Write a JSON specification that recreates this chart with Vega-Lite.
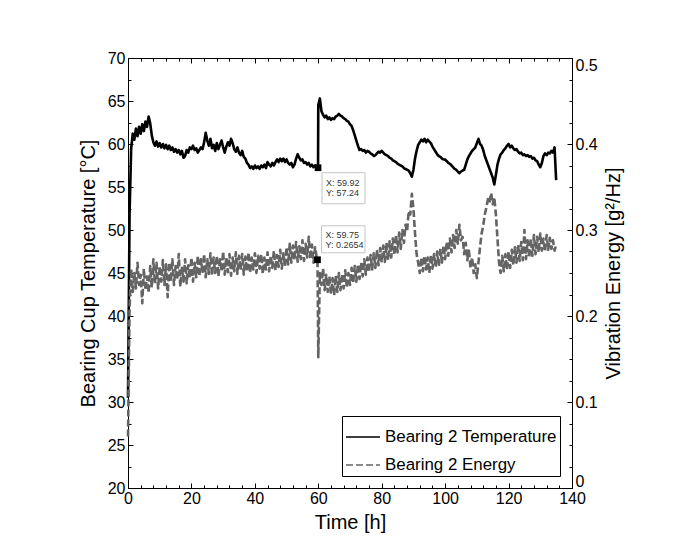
{
  "$schema": "https://vega.github.io/schema/vega-lite/v6.json",
  "width": 444,
  "height": 430,
  "autosize": {"type": "none"},
  "padding": {"left": 128, "top": 58, "right": 102, "bottom": 60},
  "background": "white",
  "datasets": {
    "temperature": [
      {"t":0,"temp":30.5},{"t":0.5,"temp":52},{"t":1,"temp":59.5},{"t":1.5,"temp":61.2},{"t":2,"temp":60.5},{"t":2.5,"temp":61.8},{"t":3,"temp":60.9},{"t":3.5,"temp":62.0},{"t":4,"temp":61.2},{"t":4.5,"temp":62.3},
      {"t":5,"temp":61.5},{"t":5.5,"temp":62.6},{"t":6,"temp":62.0},{"t":6.5,"temp":63.2},{"t":7,"temp":62.4},{"t":7.5,"temp":61.0},{"t":8,"temp":60.2},{"t":8.5,"temp":59.8},{"t":9,"temp":60.3},{"t":9.5,"temp":59.7},
      {"t":10,"temp":60.1},{"t":10.5,"temp":59.6},{"t":11,"temp":60.0},{"t":11.5,"temp":59.5},{"t":12,"temp":59.9},{"t":12.5,"temp":59.4},{"t":13,"temp":59.8},{"t":13.5,"temp":59.3},{"t":14,"temp":59.6},{"t":14.5,"temp":59.1},
      {"t":15,"temp":59.4},{"t":15.5,"temp":59.0},{"t":16,"temp":59.3},{"t":16.5,"temp":58.8},{"t":17,"temp":59.2},{"t":17.5,"temp":58.4},{"t":18,"temp":58.6},{"t":18.5,"temp":59.3},{"t":19,"temp":59.0},{"t":19.5,"temp":59.6},
      {"t":20,"temp":59.4},{"t":20.5,"temp":59.8},{"t":21,"temp":59.3},{"t":21.5,"temp":59.5},{"t":22,"temp":59.0},{"t":22.5,"temp":59.3},{"t":23,"temp":59.6},{"t":23.5,"temp":59.4},{"t":24,"temp":60.2},{"t":24.5,"temp":61.3},
      {"t":25,"temp":60.4},{"t":25.5,"temp":59.8},{"t":26,"temp":60.6},{"t":26.5,"temp":59.5},{"t":27,"temp":59.9},{"t":27.5,"temp":59.2},{"t":28,"temp":60.1},{"t":28.5,"temp":59.4},{"t":29,"temp":59.9},{"t":29.5,"temp":60.4},
      {"t":30,"temp":59.6},{"t":30.5,"temp":59.0},{"t":31,"temp":59.7},{"t":31.5,"temp":60.2},{"t":32,"temp":59.8},{"t":32.5,"temp":60.6},{"t":33,"temp":60.1},{"t":33.5,"temp":59.4},{"t":34,"temp":59.1},{"t":34.5,"temp":59.6},
      {"t":35,"temp":59.0},{"t":35.5,"temp":58.7},{"t":36,"temp":59.2},{"t":36.5,"temp":58.5},{"t":37,"temp":58.3},{"t":37.5,"temp":57.8},{"t":38,"temp":57.6},{"t":38.5,"temp":57.2},{"t":39,"temp":57.4},{"t":39.5,"temp":57.1},
      {"t":40,"temp":57.5},{"t":40.5,"temp":57.2},{"t":41,"temp":57.4},{"t":41.5,"temp":57.1},{"t":42,"temp":57.5},{"t":42.5,"temp":57.3},{"t":43,"temp":57.6},{"t":43.5,"temp":57.2},{"t":44,"temp":57.9},{"t":44.5,"temp":57.6},
      {"t":45,"temp":57.4},{"t":45.5,"temp":57.8},{"t":46,"temp":57.5},{"t":46.5,"temp":57.9},{"t":47,"temp":58.2},{"t":47.5,"temp":57.9},{"t":48,"temp":58.3},{"t":48.5,"temp":58.0},{"t":49,"temp":58.3},{"t":49.5,"temp":57.9},
      {"t":50,"temp":58.2},{"t":50.5,"temp":57.8},{"t":51,"temp":57.6},{"t":51.5,"temp":57.8},{"t":52,"temp":57.3},{"t":52.5,"temp":57.6},{"t":53,"temp":58.3},{"t":53.5,"temp":58.8},{"t":54,"temp":58.4},{"t":54.5,"temp":58.1},
      {"t":55,"temp":58.2},{"t":55.5,"temp":57.8},{"t":56,"temp":57.9},{"t":56.5,"temp":57.6},{"t":57,"temp":57.8},{"t":57.5,"temp":57.4},{"t":58,"temp":57.6},{"t":58.5,"temp":57.3},{"t":59,"temp":57.5},{"t":59.5,"temp":57.3},
      {"t":59.92,"temp":57.24},{"t":60,"temp":64.5},{"t":60.5,"temp":65.3},{"t":61,"temp":63.8},{"t":61.5,"temp":63.4},{"t":62,"temp":63.1},{"t":62.5,"temp":63.3},{"t":63,"temp":62.9},{"t":63.5,"temp":63.1},{"t":64,"temp":62.8},{"t":64.5,"temp":63.0},
      {"t":65,"temp":62.9},{"t":65.5,"temp":63.2},{"t":66,"temp":63.3},{"t":66.5,"temp":63.5},{"t":67,"temp":63.3},{"t":67.5,"temp":63.2},{"t":68,"temp":63.0},{"t":68.5,"temp":62.9},{"t":69,"temp":62.7},{"t":69.5,"temp":62.6},
      {"t":70,"temp":62.3},{"t":70.5,"temp":62.1},{"t":71,"temp":61.6},{"t":71.5,"temp":61.0},{"t":72,"temp":60.4},{"t":72.5,"temp":59.8},{"t":73,"temp":59.3},{"t":73.5,"temp":59.4},{"t":74,"temp":59.2},{"t":74.5,"temp":59.3},
      {"t":75,"temp":59.0},{"t":75.5,"temp":59.2},{"t":76,"temp":59.1},{"t":76.5,"temp":58.9},{"t":77,"temp":58.8},{"t":77.5,"temp":58.6},{"t":78,"temp":58.7},{"t":78.5,"temp":58.9},{"t":79,"temp":59.1},{"t":79.5,"temp":59.0},
      {"t":80,"temp":59.2},{"t":80.5,"temp":59.0},{"t":81,"temp":58.8},{"t":81.5,"temp":58.7},{"t":82,"temp":58.6},{"t":82.5,"temp":58.4},{"t":83,"temp":58.3},{"t":83.5,"temp":58.1},{"t":84,"temp":58.0},{"t":84.5,"temp":57.9},
      {"t":85,"temp":57.7},{"t":85.5,"temp":57.6},{"t":86,"temp":57.5},{"t":86.5,"temp":57.4},{"t":87,"temp":57.2},{"t":87.5,"temp":57.1},{"t":88,"temp":57.0},{"t":88.5,"temp":56.9},{"t":89,"temp":56.6},{"t":89.5,"temp":56.2},
      {"t":90,"temp":57.0},{"t":90.5,"temp":58.3},{"t":91,"temp":59.2},{"t":91.5,"temp":59.9},{"t":92,"temp":60.2},{"t":92.5,"temp":60.5},{"t":93,"temp":60.3},{"t":93.5,"temp":60.6},{"t":94,"temp":60.2},{"t":94.5,"temp":60.5},
      {"t":95,"temp":60.3},{"t":95.5,"temp":60.1},{"t":96,"temp":59.7},{"t":96.5,"temp":59.4},{"t":97,"temp":59.1},{"t":97.5,"temp":58.8},{"t":98,"temp":58.6},{"t":98.5,"temp":58.5},{"t":99,"temp":58.3},{"t":99.5,"temp":58.2},
      {"t":100,"temp":58.2},{"t":100.5,"temp":58.0},{"t":101,"temp":57.8},{"t":101.5,"temp":57.7},{"t":102,"temp":57.5},{"t":102.5,"temp":57.3},{"t":103,"temp":57.1},{"t":103.5,"temp":57.0},{"t":104,"temp":56.8},{"t":104.5,"temp":56.6},
      {"t":105,"temp":56.8},{"t":105.5,"temp":56.9},{"t":106,"temp":57.0},{"t":106.5,"temp":57.6},{"t":107,"temp":58.2},{"t":107.5,"temp":58.6},{"t":108,"temp":58.9},{"t":108.5,"temp":59.2},{"t":109,"temp":59.4},{"t":109.5,"temp":59.6},
      {"t":110,"temp":60.1},{"t":110.5,"temp":60.6},{"t":111,"temp":60.0},{"t":111.5,"temp":59.8},{"t":112,"temp":59.3},{"t":112.5,"temp":58.6},{"t":113,"temp":58.1},{"t":113.5,"temp":57.6},{"t":114,"temp":57.1},{"t":114.5,"temp":56.6},
      {"t":115,"temp":56.1},{"t":115.5,"temp":55.3},{"t":116,"temp":56.4},{"t":116.5,"temp":57.6},{"t":117,"temp":58.3},{"t":117.5,"temp":58.8},{"t":118,"temp":59.0},{"t":118.5,"temp":59.3},{"t":119,"temp":59.5},{"t":119.5,"temp":59.8},
      {"t":120,"temp":60.0},{"t":120.5,"temp":59.6},{"t":121,"temp":59.8},{"t":121.5,"temp":59.5},{"t":122,"temp":59.3},{"t":122.5,"temp":59.4},{"t":123,"temp":59.1},{"t":123.5,"temp":58.9},{"t":124,"temp":59.0},{"t":124.5,"temp":58.7},
      {"t":125,"temp":58.8},{"t":125.5,"temp":58.6},{"t":126,"temp":58.7},{"t":126.5,"temp":58.5},{"t":127,"temp":58.6},{"t":127.5,"temp":58.3},{"t":128,"temp":58.4},{"t":128.5,"temp":58.1},{"t":129,"temp":58.0},{"t":129.5,"temp":57.6},
      {"t":130,"temp":57.3},{"t":130.5,"temp":57.8},{"t":131,"temp":58.6},{"t":131.5,"temp":58.9},{"t":132,"temp":58.7},{"t":132.5,"temp":59.0},{"t":133,"temp":58.9},{"t":133.5,"temp":59.2},{"t":134,"temp":59.0},{"t":134.5,"temp":59.6},
      {"t":135,"temp":55.8}
    ],
    "energy": [
      {"t":0,"energy":0.06},{"t":0.5,"energy":0.21},{"t":1,"energy":0.255},{"t":1.5,"energy":0.228},{"t":2,"energy":0.250},{"t":2.5,"energy":0.232},{"t":3,"energy":0.262},{"t":3.5,"energy":0.236},{"t":4,"energy":0.248},{"t":4.5,"energy":0.215},
      {"t":5,"energy":0.255},{"t":5.5,"energy":0.230},{"t":6,"energy":0.246},{"t":6.5,"energy":0.227},{"t":7,"energy":0.258},{"t":7.5,"energy":0.233},{"t":8,"energy":0.266},{"t":8.5,"energy":0.238},{"t":9,"energy":0.262},{"t":9.5,"energy":0.232},
      {"t":10,"energy":0.258},{"t":10.5,"energy":0.240},{"t":11,"energy":0.265},{"t":11.5,"energy":0.236},{"t":12,"energy":0.260},{"t":12.5,"energy":0.222},{"t":13,"energy":0.262},{"t":13.5,"energy":0.240},{"t":14,"energy":0.266},{"t":14.5,"energy":0.236},
      {"t":15,"energy":0.258},{"t":15.5,"energy":0.242},{"t":16,"energy":0.272},{"t":16.5,"energy":0.234},{"t":17,"energy":0.256},{"t":17.5,"energy":0.240},{"t":18,"energy":0.266},{"t":18.5,"energy":0.238},{"t":19,"energy":0.259},{"t":19.5,"energy":0.244},
      {"t":20,"energy":0.268},{"t":20.5,"energy":0.240},{"t":21,"energy":0.262},{"t":21.5,"energy":0.245},{"t":22,"energy":0.270},{"t":22.5,"energy":0.246},{"t":23,"energy":0.266},{"t":23.5,"energy":0.250},{"t":24,"energy":0.272},{"t":24.5,"energy":0.245},
      {"t":25,"energy":0.266},{"t":25.5,"energy":0.249},{"t":26,"energy":0.273},{"t":26.5,"energy":0.247},{"t":27,"energy":0.268},{"t":27.5,"energy":0.250},{"t":28,"energy":0.270},{"t":28.5,"energy":0.246},{"t":29,"energy":0.266},{"t":29.5,"energy":0.252},
      {"t":30,"energy":0.275},{"t":30.5,"energy":0.248},{"t":31,"energy":0.268},{"t":31.5,"energy":0.251},{"t":32,"energy":0.272},{"t":32.5,"energy":0.247},{"t":33,"energy":0.268},{"t":33.5,"energy":0.252},{"t":34,"energy":0.274},{"t":34.5,"energy":0.249},
      {"t":35,"energy":0.270},{"t":35.5,"energy":0.253},{"t":36,"energy":0.272},{"t":36.5,"energy":0.248},{"t":37,"energy":0.269},{"t":37.5,"energy":0.252},{"t":38,"energy":0.274},{"t":38.5,"energy":0.250},{"t":39,"energy":0.268},{"t":39.5,"energy":0.254},
      {"t":40,"energy":0.273},{"t":40.5,"energy":0.250},{"t":41,"energy":0.270},{"t":41.5,"energy":0.255},{"t":42,"energy":0.272},{"t":42.5,"energy":0.249},{"t":43,"energy":0.268},{"t":43.5,"energy":0.254},{"t":44,"energy":0.274},{"t":44.5,"energy":0.252},
      {"t":45,"energy":0.270},{"t":45.5,"energy":0.256},{"t":46,"energy":0.276},{"t":46.5,"energy":0.253},{"t":47,"energy":0.271},{"t":47.5,"energy":0.257},{"t":48,"energy":0.277},{"t":48.5,"energy":0.255},{"t":49,"energy":0.273},{"t":49.5,"energy":0.258},
      {"t":50,"energy":0.280},{"t":50.5,"energy":0.260},{"t":51,"energy":0.284},{"t":51.5,"energy":0.262},{"t":52,"energy":0.282},{"t":52.5,"energy":0.265},{"t":53,"energy":0.286},{"t":53.5,"energy":0.263},{"t":54,"energy":0.281},{"t":54.5,"energy":0.266},
      {"t":55,"energy":0.288},{"t":55.5,"energy":0.264},{"t":56,"energy":0.284},{"t":56.5,"energy":0.268},{"t":57,"energy":0.292},{"t":57.5,"energy":0.266},{"t":58,"energy":0.283},{"t":58.5,"energy":0.262},{"t":59,"energy":0.280},{"t":59.5,"energy":0.268},
      {"t":59.75,"energy":0.2654},{"t":60,"energy":0.152},{"t":60.5,"energy":0.250},{"t":61,"energy":0.236},{"t":61.5,"energy":0.255},{"t":62,"energy":0.230},{"t":62.5,"energy":0.248},{"t":63,"energy":0.228},{"t":63.5,"energy":0.246},{"t":64,"energy":0.226},{"t":64.5,"energy":0.244},
      {"t":65,"energy":0.224},{"t":65.5,"energy":0.247},{"t":66,"energy":0.228},{"t":66.5,"energy":0.250},{"t":67,"energy":0.230},{"t":67.5,"energy":0.249},{"t":68,"energy":0.232},{"t":68.5,"energy":0.253},{"t":69,"energy":0.233},{"t":69.5,"energy":0.250},
      {"t":70,"energy":0.236},{"t":70.5,"energy":0.256},{"t":71,"energy":0.238},{"t":71.5,"energy":0.258},{"t":72,"energy":0.240},{"t":72.5,"energy":0.260},{"t":73,"energy":0.243},{"t":73.5,"energy":0.262},{"t":74,"energy":0.246},{"t":74.5,"energy":0.266},
      {"t":75,"energy":0.248},{"t":75.5,"energy":0.268},{"t":76,"energy":0.251},{"t":76.5,"energy":0.271},{"t":77,"energy":0.254},{"t":77.5,"energy":0.273},{"t":78,"energy":0.256},{"t":78.5,"energy":0.277},{"t":79,"energy":0.259},{"t":79.5,"energy":0.279},
      {"t":80,"energy":0.262},{"t":80.5,"energy":0.282},{"t":81,"energy":0.263},{"t":81.5,"energy":0.285},{"t":82,"energy":0.265},{"t":82.5,"energy":0.287},{"t":83,"energy":0.268},{"t":83.5,"energy":0.290},{"t":84,"energy":0.271},{"t":84.5,"energy":0.294},
      {"t":85,"energy":0.274},{"t":85.5,"energy":0.297},{"t":86,"energy":0.278},{"t":86.5,"energy":0.300},{"t":87,"energy":0.285},{"t":87.5,"energy":0.306},{"t":88,"energy":0.298},{"t":88.5,"energy":0.322},{"t":89,"energy":0.318},{"t":89.5,"energy":0.342},
      {"t":90,"energy":0.325},{"t":90.5,"energy":0.296},{"t":91,"energy":0.272},{"t":91.5,"energy":0.262},{"t":92,"energy":0.250},{"t":92.5,"energy":0.268},{"t":93,"energy":0.252},{"t":93.5,"energy":0.270},{"t":94,"energy":0.254},{"t":94.5,"energy":0.268},
      {"t":95,"energy":0.250},{"t":95.5,"energy":0.271},{"t":96,"energy":0.255},{"t":96.5,"energy":0.272},{"t":97,"energy":0.257},{"t":97.5,"energy":0.275},{"t":98,"energy":0.258},{"t":98.5,"energy":0.278},{"t":99,"energy":0.262},{"t":99.5,"energy":0.282},
      {"t":100,"energy":0.266},{"t":100.5,"energy":0.286},{"t":101,"energy":0.270},{"t":101.5,"energy":0.290},{"t":102,"energy":0.274},{"t":102.5,"energy":0.294},{"t":103,"energy":0.279},{"t":103.5,"energy":0.300},{"t":104,"energy":0.284},{"t":104.5,"energy":0.306},
      {"t":105,"energy":0.288},{"t":105.5,"energy":0.292},{"t":106,"energy":0.272},{"t":106.5,"energy":0.285},{"t":107,"energy":0.265},{"t":107.5,"energy":0.276},{"t":108,"energy":0.256},{"t":108.5,"energy":0.268},{"t":109,"energy":0.250},{"t":109.5,"energy":0.260},
      {"t":110,"energy":0.244},{"t":110.5,"energy":0.262},{"t":111,"energy":0.280},{"t":111.5,"energy":0.296},{"t":112,"energy":0.305},{"t":112.5,"energy":0.318},{"t":113,"energy":0.326},{"t":113.5,"energy":0.336},{"t":114,"energy":0.332},{"t":114.5,"energy":0.343},
      {"t":115,"energy":0.330},{"t":115.5,"energy":0.338},{"t":116,"energy":0.318},{"t":116.5,"energy":0.290},{"t":117,"energy":0.262},{"t":117.5,"energy":0.250},{"t":118,"energy":0.270},{"t":118.5,"energy":0.252},{"t":119,"energy":0.272},{"t":119.5,"energy":0.254},
      {"t":120,"energy":0.275},{"t":120.5,"energy":0.256},{"t":121,"energy":0.277},{"t":121.5,"energy":0.259},{"t":122,"energy":0.280},{"t":122.5,"energy":0.262},{"t":123,"energy":0.283},{"t":123.5,"energy":0.264},{"t":124,"energy":0.286},{"t":124.5,"energy":0.265},
      {"t":125,"energy":0.300},{"t":125.5,"energy":0.266},{"t":126,"energy":0.288},{"t":126.5,"energy":0.268},{"t":127,"energy":0.290},{"t":127.5,"energy":0.270},{"t":128,"energy":0.294},{"t":128.5,"energy":0.272},{"t":129,"energy":0.292},{"t":129.5,"energy":0.274},
      {"t":130,"energy":0.296},{"t":130.5,"energy":0.276},{"t":131,"energy":0.290},{"t":131.5,"energy":0.275},{"t":132,"energy":0.294},{"t":132.5,"energy":0.277},{"t":133,"energy":0.291},{"t":133.5,"energy":0.278},{"t":134,"energy":0.288},{"t":134.5,"energy":0.276},
      {"t":135,"energy":0.283}
    ],
    "tipTemp": [{"t": 59.92, "temp": 57.24, "label": "X: 59.92\nY: 57.24"}],
    "tipEnergy": [{"t": 59.75, "energy": 0.2654, "label": "X: 59.75\nY: 0.2654"}]
  },
  "layer": [
    {
      "layer": [
        {
          "data": {"name": "temperature"},
          "mark": {"type": "line", "strokeWidth": 2.6, "strokeJoin": "round"},
          "encoding": {
            "x": {
              "field": "t", "type": "quantitative",
              "scale": {"domain": [0, 140], "nice": false, "zero": false},
              "axis": {
                "orient": "bottom", "title": "Time [h]", "tickCount": 200,
                "values": [0,4,8,12,16,20,24,28,32,36,40,44,48,52,56,60,64,68,72,76,80,84,88,92,96,100,104,108,112,116,120,124,128,132,136,140],
                "labelExpr": "datum.value % 20 === 0 ? format(datum.value, 'd') : ''",
                "tickSize": {"condition": {"test": "datum.value % 20 === 0", "value": -5}, "value": -3},
                "labelPadding": 7, "titlePadding": 4, "labelFlush": false, "labelOverlap": false, "labelBound": false
              }
            },
            "y": {
              "field": "temp", "type": "quantitative",
              "scale": {"domain": [20, 70], "nice": false, "zero": false},
              "axis": {
                "orient": "left", "title": "Bearing Cup Temperature [°C]", "tickCount": 200,
                "values": [20,22.5,25,27.5,30,32.5,35,37.5,40,42.5,45,47.5,50,52.5,55,57.5,60,62.5,65,67.5,70],
                "labelExpr": "datum.value % 5 === 0 ? format(datum.value, 'd') : ''",
                "tickSize": {"condition": {"test": "datum.value % 5 === 0", "value": -5}, "value": -3},
                "labelPadding": 8, "titlePadding": 9, "labelFlush": false, "labelOverlap": false
              }
            },
            "color": {"datum": "Bearing 2 Temperature", "type": "nominal", "scale": {"domain": ["Bearing 2 Temperature", "Bearing 2 Energy"], "range": ["#000000", "#646464"]}, "title": null},
            "strokeDash": {"datum": "Bearing 2 Temperature", "type": "nominal", "scale": {"domain": ["Bearing 2 Temperature", "Bearing 2 Energy"], "range": [[1, 0], [7, 3]]}, "title": null}
          }
        },
        {
          "data": {"name": "tipTemp"},
          "mark": {"type": "point", "shape": "M0.08,0.1H0.94V0.72H0.08Z", "size": 10000, "filled": true, "fill": "white", "stroke": "#c4c4c4", "strokeWidth": 1, "opacity": 1},
          "encoding": {"x": {"field": "t", "type": "quantitative"}, "y": {"field": "temp", "type": "quantitative"}}
        },
        {
          "data": {"name": "tipTemp"},
          "mark": {"type": "text", "align": "left", "baseline": "middle", "dx": 8, "dy": 15, "fontSize": 9, "lineHeight": 10.6, "lineBreak": "\n", "color": "#333333", "font": "Liberation Sans"},
          "encoding": {"x": {"field": "t", "type": "quantitative"}, "y": {"field": "temp", "type": "quantitative"}, "text": {"field": "label"}}
        },
        {
          "data": {"name": "tipTemp"},
          "mark": {"type": "point", "shape": "square", "size": 45, "filled": true, "color": "black", "opacity": 1},
          "encoding": {"x": {"field": "t", "type": "quantitative"}, "y": {"field": "temp", "type": "quantitative"}}
        }
      ]
    },
    {
      "layer": [
        {
          "data": {"name": "energy"},
          "mark": {"type": "line", "strokeWidth": 2.6, "strokeJoin": "round"},
          "encoding": {
            "x": {
              "field": "t", "type": "quantitative",
              "scale": {"domain": [0, 140], "nice": false, "zero": false},
              "axis": {
                "orient": "top", "title": null, "labels": false, "tickCount": 200,
                "values": [0,4,8,12,16,20,24,28,32,36,40,44,48,52,56,60,64,68,72,76,80,84,88,92,96,100,104,108,112,116,120,124,128,132,136,140],
                "tickSize": {"condition": {"test": "datum.value % 20 === 0", "value": -5}, "value": -3}
              }
            },
            "y": {
              "field": "energy", "type": "quantitative",
              "scale": {"domain": [0, 0.5], "nice": false, "zero": false},
              "axis": {
                "orient": "right", "title": "Vibration Energy [g²/Hz]", "titleAngle": 270, "titleBaseline": "top", "tickCount": 200,
                "values": [0,0.025,0.05,0.075,0.1,0.125,0.15,0.175,0.2,0.225,0.25,0.275,0.3,0.325,0.35,0.375,0.4,0.425,0.45,0.475,0.5],
                "labelExpr": "abs(datum.value * 10 - round(datum.value * 10)) < 0.001 ? format(datum.value, '~g') : ''",
                "tickSize": {"condition": {"test": "abs(datum.value * 10 - round(datum.value * 10)) < 0.001", "value": -5}, "value": -3},
                "labelPadding": 8, "titlePadding": 6, "labelFlush": true, "labelFlushOffset": 1, "labelOverlap": false
              }
            },
            "color": {"datum": "Bearing 2 Energy", "type": "nominal", "title": null},
            "strokeDash": {"datum": "Bearing 2 Energy", "type": "nominal", "title": null}
          }
        },
        {
          "data": {"name": "tipEnergy"},
          "mark": {"type": "point", "shape": "M0.08,-0.68H0.95V-0.14H0.08Z", "size": 10000, "filled": true, "fill": "white", "stroke": "#c4c4c4", "strokeWidth": 1, "opacity": 1},
          "encoding": {"x": {"field": "t", "type": "quantitative"}, "y": {"field": "energy", "type": "quantitative"}}
        },
        {
          "data": {"name": "tipEnergy"},
          "mark": {"type": "text", "align": "left", "baseline": "middle", "dx": 8, "dy": -25, "fontSize": 9, "lineHeight": 10.6, "lineBreak": "\n", "color": "#333333", "font": "Liberation Sans"},
          "encoding": {"x": {"field": "t", "type": "quantitative"}, "y": {"field": "energy", "type": "quantitative"}, "text": {"field": "label"}}
        },
        {
          "data": {"name": "tipEnergy"},
          "mark": {"type": "point", "shape": "square", "size": 45, "filled": true, "color": "black", "opacity": 1},
          "encoding": {"x": {"field": "t", "type": "quantitative"}, "y": {"field": "energy", "type": "quantitative"}}
        }
      ]
    }
  ],
  "resolve": {"scale": {"y": "independent"}, "axis": {"x": "independent"}},
  "config": {
    "font": "Liberation Sans",
    "view": {"stroke": "black", "strokeWidth": 1},
    "mark": {"invalid": "filter"},
    "axis": {
      "domainColor": "black", "domainWidth": 1, "tickColor": "black", "tickWidth": 1,
      "labelColor": "black", "titleColor": "black", "labelFont": "Liberation Sans", "titleFont": "Liberation Sans",
      "labelFontSize": 16, "titleFontSize": 20, "titleFontWeight": "normal", "grid": false,
      "labelOverlap": false, "labelBound": false, "labelFlush": false
    },
    "legend": {
      "orient": "bottom-right", "offset": 12, "strokeColor": "black", "fillColor": "white", "padding": 3,
      "symbolType": "stroke", "symbolSize": 1156, "symbolStrokeWidth": 1.4, "rowPadding": 2,
      "labelFont": "Liberation Sans", "labelFontSize": 16.9, "labelColor": "black", "labelOffset": 4, "labelLimit": 400, "cornerRadius": 0
    }
  }
}
